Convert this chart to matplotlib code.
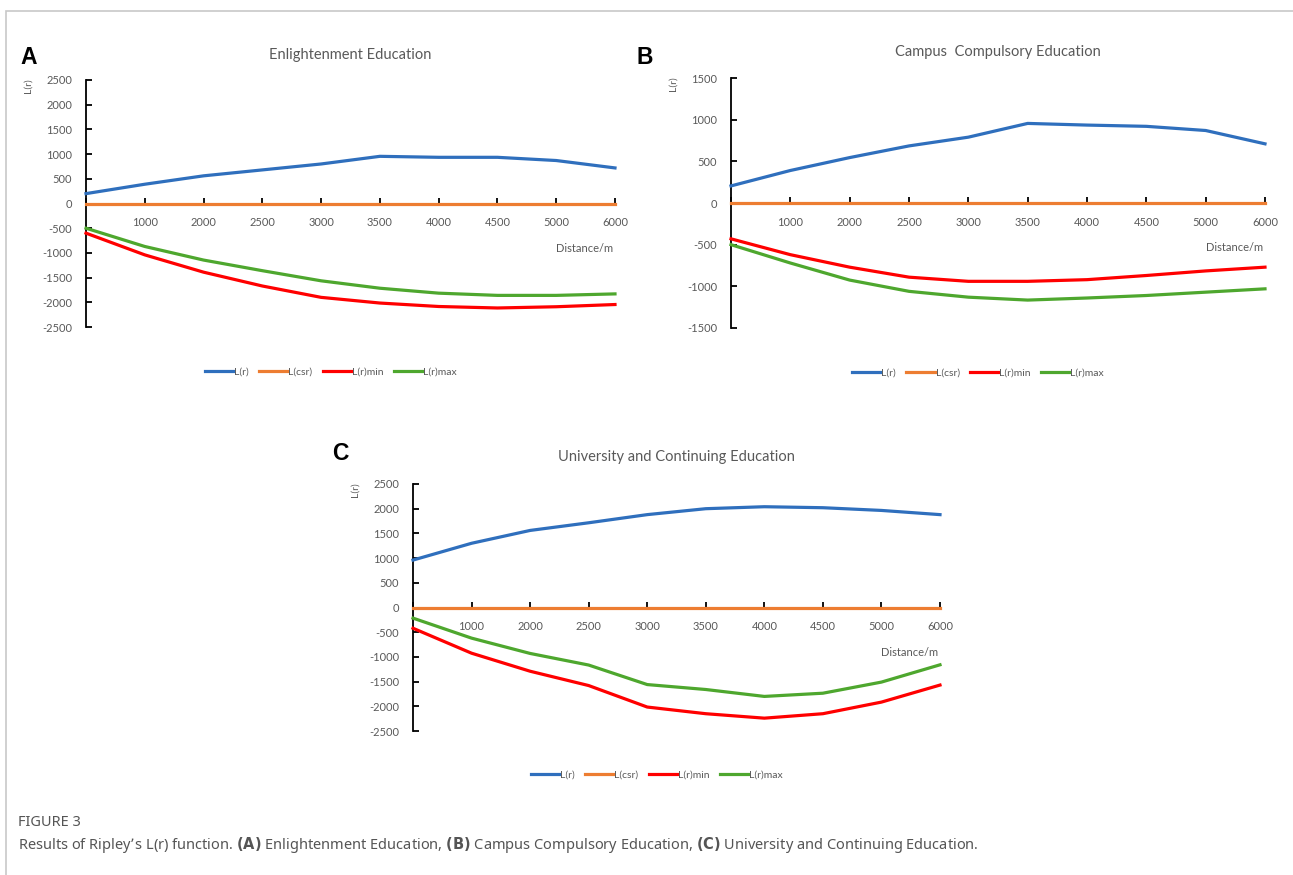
import matplotlib
matplotlib.use("Agg")
import matplotlib.pyplot as plt
from matplotlib.patches import Rectangle

W, H = 1293, 875

# categories on the x axis (first point sits on the y axis with no label)
x_labels = ["", "1000", "2000", "2500", "3000", "3500", "4000", "4500", "5000", "6000"]

# A: Enlightenment Education
a_lr = [200, 390, 560, 680, 800, 955, 935, 935, 870, 720]
a_csr = [0, 0, 0, 0, 0, 0, 0, 0, 0, 0]
a_min = [-600, -1040, -1390, -1670, -1900, -2015, -2085, -2115, -2090, -2045]
a_max = [-500, -870, -1145, -1360, -1565, -1715, -1815, -1860, -1860, -1830]

# B: Campus Compulsory Education
b_lr = [205, 390, 545, 685, 790, 955, 935, 920, 870, 710]
b_csr = [0, 0, 0, 0, 0, 0, 0, 0, 0, 0]
b_min = [-430, -620, -770, -890, -940, -940, -920, -870, -815, -770]
b_max = [-500, -720, -925, -1060, -1130, -1165, -1140, -1110, -1070, -1030]

# C: University and Continuing Education
c_lr = [960, 1300, 1560, 1715, 1880, 2000, 2040, 2020, 1965, 1880]
c_csr = [0, 0, 0, 0, 0, 0, 0, 0, 0, 0]
c_min = [-420, -925, -1290, -1580, -2015, -2150, -2240, -2150, -1915, -1570]
c_max = [-215, -620, -930, -1165, -1560, -1660, -1800, -1735, -1510, -1160]

series_names = ["L(r)", "L(csr)", "L(r)min", "L(r)max"]
colors = ["#2f6fbd", "#ed7d31", "#ff0000", "#4ea72e"]

GRAY = "#595959"
CHART_FONT = ["Lato", "DejaVu Sans"]

fig = plt.figure(figsize=(W / 100, H / 100), dpi=100)


def fx(px):
    return px / W


def fy(py):
    return 1 - py / H


def panel(letter, title, left, right, top, bottom, ymax, ystep, data,
          title_y, letter_xy, leg_y):
    ax = fig.add_axes([fx(left), fy(bottom), fx(right - left), (bottom - top) / H])
    # spine position first: it resets the ticks
    ax.spines["top"].set_visible(False)
    ax.spines["right"].set_visible(False)
    ax.spines["bottom"].set_position(("data", 0))
    ax.spines["left"].set_linewidth(1.3)
    ax.spines["bottom"].set_linewidth(1.3)

    xs = list(range(len(x_labels)))
    for vals, name, c in zip(data, series_names, colors):
        ax.plot(xs, vals, color=c, lw=2.3, label=name, zorder=3, clip_on=False)
    ax.set_xlim(0, len(x_labels) - 1)
    ax.set_ylim(-ymax, ymax)

    ax.tick_params(axis="y", direction="in", length=4, width=1.3, pad=10)
    ax.tick_params(axis="x", direction="in", length=4, width=1.3, pad=10)
    yt = list(range(-ymax, ymax + 1, ystep))
    ax.set_yticks(yt)
    ax.set_yticklabels([str(v) for v in yt], color=GRAY, fontsize=8, family=CHART_FONT)
    ax.set_xticks(xs)
    ax.set_xticklabels(x_labels, color=GRAY, fontsize=8, family=CHART_FONT)
    ax.set_facecolor("none")

    cx = (left + right) / 2
    fig.text(fx(cx), fy(title_y), title, ha="center", va="center",
             fontsize=10.5, color=GRAY, family=CHART_FONT)
    fig.text(fx(letter_xy[0]), fy(letter_xy[1]), letter, ha="left", va="center",
             fontsize=16.5, fontweight="bold", color="black",
             family=["Liberation Sans", "DejaVu Sans"])
    fig.text(fx(left - 58), fy(top + 6), "L(r)", ha="center", va="center",
             rotation=90, fontsize=7.5, color=GRAY, family=CHART_FONT)
    zero_y = top + (bottom - top) / 2
    fig.text(fx(right - 2), fy(zero_y + 45), "Distance/m", ha="right", va="center",
             fontsize=8, color=GRAY, family=CHART_FONT)
    fig.legend(*ax.get_legend_handles_labels(), loc="center",
               bbox_to_anchor=(fx(cx - 20), fy(leg_y)), ncol=4, frameon=False,
               handlelength=2.7, columnspacing=1.0, handletextpad=0.1,
               prop={"family": CHART_FONT, "size": 7.5}, labelcolor=GRAY)
    return ax


panel("A", "Enlightenment Education", 86, 615, 80, 327, 2500, 500,
      [a_lr, a_csr, a_min, a_max], 55, (20, 57), 372)
panel("B", "Campus  Compulsory Education", 731, 1265, 78, 328, 1500, 500,
      [b_lr, b_csr, b_min, b_max], 52, (636, 57), 373)
panel("C", "University and Continuing Education", 413, 940, 484, 731, 2500, 500,
      [c_lr, c_csr, c_min, c_max], 457, (332, 453), 775)

# light frame around the figure area
fig.patches.append(Rectangle((fx(6), fy(885)), fx(1300), (885 - 11) / H,
                             transform=fig.transFigure, fill=False,
                             edgecolor="#c8c8c8", lw=1.2))

fig.text(fx(18), fy(822), "FIGURE 3", ha="left", va="center", fontsize=10.5,
         color="#555555", fontweight="semibold", family=["Noto Sans", "DejaVu Sans"])
fig.text(fx(18), fy(845),
         r"Results of Ripley’s L(r) function. $\bf{(A)}$ Enlightenment Education, "
         r"$\bf{(B)}$ Campus Compulsory Education, $\bf{(C)}$ University and Continuing Education.",
         ha="left", va="center", fontsize=10.5, color="#555555",
         family=["Noto Sans", "DejaVu Sans"])

fig.savefig("out.png", dpi=100)
